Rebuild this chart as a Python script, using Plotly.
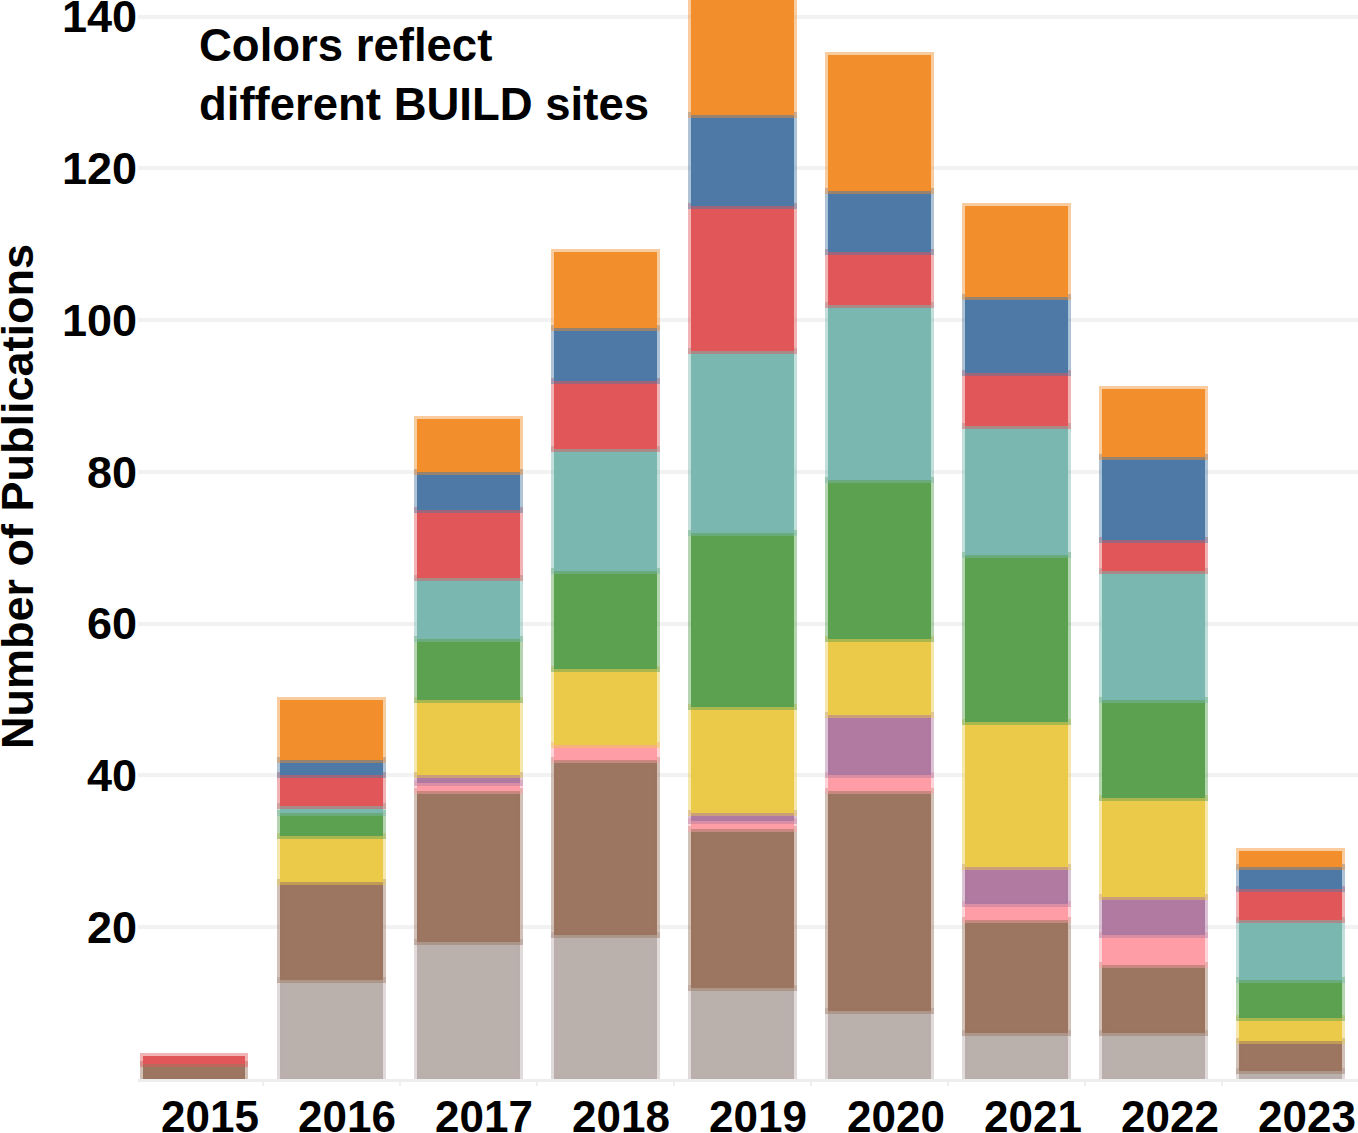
import plotly.graph_objects as go

years = ["2015", "2016", "2017", "2018", "2019", "2020", "2021", "2022", "2023"]

# Publications per BUILD site (stack order bottom -> top)
site_gray   = [0, 13, 18, 19, 12,  9,  6,  6, 1]
site_brown  = [2, 13, 20, 23, 21, 29, 15,  9, 4]
site_pink   = [0,  0,  1,  2,  1,  2,  2,  4, 0]
site_purple = [0,  0,  1,  0,  1,  8,  5,  5, 0]
site_yellow = [0,  6, 10, 10, 14, 10, 19, 13, 3]
site_green  = [0,  3,  8, 13, 23, 21, 22, 13, 5]
site_teal   = [0,  1,  8, 16, 24, 23, 17, 17, 8]
site_red    = [1,  4,  9,  9, 19,  7,  7,  4, 4]
site_blue   = [0,  2,  5,  7, 12,  8, 10, 11, 3]
site_orange = [0,  8,  7, 10, 16, 18, 12,  9, 2]

series = [
    ("Site A", site_gray,   (186, 176, 172)),
    ("Site B", site_brown,  (156, 118,  96)),
    ("Site C", site_pink,   (255, 157, 167)),
    ("Site D", site_purple, (176, 122, 161)),
    ("Site E", site_yellow, (235, 201,  73)),
    ("Site F", site_green,  ( 91, 161,  80)),
    ("Site G", site_teal,   (122, 183, 176)),
    ("Site H", site_red,    (225,  87,  89)),
    ("Site I", site_blue,   ( 78, 121, 167)),
    ("Site J", site_orange, (242, 142,  44)),
]

fig = go.Figure()
for name, vals, (r, g, b) in series:
    fig.add_trace(go.Bar(
        x=years,
        y=[v if v else None for v in vals],
        name=name,
        marker=dict(color=f"rgb({r},{g},{b})",
                    line=dict(color=f"rgba({r},{g},{b},0.45)", width=6)),
        showlegend=False,
    ))

font_family = "Arial, Liberation Sans, sans-serif"
bold_font = dict(family=font_family, size=45, color="black", weight="bold")

annotations = [
    dict(
        text="Number of Publications",
        xref="paper", yref="paper",
        x=(18 - 138) / 1220, y=1 - 497 / 1079,
        xanchor="center", yanchor="middle",
        textangle=-90,
        showarrow=False,
        font=bold_font,
    ),
    dict(
        text="Colors reflect<br>different BUILD sites",
        xref="paper", yref="paper",
        x=(197 - 138) / 1220, y=1 - 18 / 1079,
        xanchor="left", yanchor="top",
        align="left",
        showarrow=False,
        font=dict(family=font_family, size=45.5, color="black", weight="bold"),
    ),
]
# Year labels (offset slightly right of bar centres, as in the original)
for i, yr in enumerate(years):
    annotations.append(dict(
        text=yr,
        xref="x", yref="paper",
        x=i, y=1 - 1116 / 1079,
        xanchor="center", yanchor="middle",
        xshift=16,
        showarrow=False,
        font=dict(family=font_family, size=44, color="black", weight="bold"),
    ))

fig.update_layout(
    barmode="stack",
    bargap=0.25,
    width=1358,
    height=1133,
    margin=dict(l=138, r=0, t=0, b=54),
    plot_bgcolor="white",
    paper_bgcolor="white",
    font=dict(family=font_family, size=45, color="black"),
    xaxis=dict(
        type="category",
        range=[-0.409, 8.49],
        automargin=False,
        showgrid=False,
        zeroline=False,
        showline=True,
        linecolor="#eeeeee",
        linewidth=3,
        ticks="outside",
        tickson="boundaries",
        ticklen=4,
        tickcolor="#eeeeee",
        tickwidth=2,
        showticklabels=False,
    ),
    yaxis=dict(
        range=[0, 142.2],
        automargin=False,
        tickvals=[20, 40, 60, 80, 100, 120, 140],
        showgrid=True,
        gridcolor="#f2f2f2",
        gridwidth=4,
        zeroline=False,
        showline=False,
        ticks="",
        ticklabelstandoff=0,
        ticklabeloverflow="allow",
        tickfont=bold_font,
    ),
    annotations=annotations,
)

fig.write_html(
    "out.html",
    config={"displayModeBar": False},
    post_script="document.body.style.margin='0';document.body.style.overflow='hidden';",
)
